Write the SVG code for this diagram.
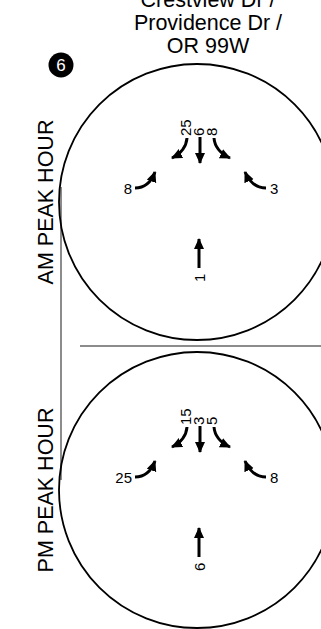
<svg xmlns="http://www.w3.org/2000/svg" width="321" height="629" viewBox="0 0 321 629">
<style>
.t{font-family:"Liberation Sans",Arial,sans-serif;fill:#000}
.ttl{font-size:21.5px;text-anchor:middle}
.ph{font-size:21.5px;text-anchor:middle}
.v{font-size:15px}
.ring{fill:none;stroke:#000;stroke-width:1.8}
.arr{fill:none;stroke:#000;stroke-width:3;marker-end:url(#ah)}
.rule{stroke:#666;stroke-width:1.5}
</style>
<defs>
<marker id="ah" markerUnits="userSpaceOnUse" markerWidth="11" markerHeight="11" viewBox="0 0 11 11" refX="10" refY="5.5" orient="auto">
<path d="M0,0.5 L11,5.5 L0,10.5 z" fill="#000"/>
</marker>
</defs>
<rect width="321" height="629" fill="#fff"/>
<g id="title">
<text class="t ttl" x="208" y="7">Crestview Dr /</text>
<text class="t ttl" x="208" y="30">Providence Dr /</text>
<text class="t ttl" x="208" y="53">OR 99W</text>
</g>
<g id="badge">
<circle cx="61" cy="65" r="12.5" fill="#000"/>
<text class="t" x="61" y="71" font-size="17" text-anchor="middle" style="fill:#fff">6</text>
</g>
<g id="frame">
<line class="rule" x1="61" y1="187" x2="61" y2="480"/>
<line class="rule" x1="80" y1="346" x2="321" y2="346"/>
</g>
<g id="am">
<circle class="ring" cx="197" cy="202" r="138"/>
<text class="t ph" transform="translate(53,202) rotate(-90)">AM PEAK HOUR</text>
</g>
<g id="pm">
<circle class="ring" cx="197" cy="490" r="138"/>
<text class="t ph" transform="translate(53,490) rotate(-90)">PM PEAK HOUR</text>
</g>
<g id="connectors">
<path class="arr" d="M200,137 L200,163"/>
<path class="arr" d="M187,138 Q186,151 172,158"/>
<path class="arr" d="M214,138 Q215,151 230,158"/>
<path class="arr" d="M135,188 Q149,188 155,172"/>
<path class="arr" d="M266,188 Q252,188 245,172"/>
<path class="arr" d="M199,268 L199,239"/>
<path class="arr" d="M200,426 L200,452"/>
<path class="arr" d="M187,427 Q186,440 172,447"/>
<path class="arr" d="M214,427 Q215,440 230,447"/>
<path class="arr" d="M135,477 Q149,477 155,461"/>
<path class="arr" d="M266,477 Q252,477 245,461"/>
<path class="arr" d="M199,557 L199,528"/>
</g>
<g id="am-volumes">
<text class="t v" transform="translate(191,136) rotate(-90)">25</text>
<text class="t v" transform="translate(204,136) rotate(-90)">6</text>
<text class="t v" transform="translate(217,136) rotate(-90)">8</text>
<text class="t v" x="132" y="194" text-anchor="end">8</text>
<text class="t v" x="270" y="194">3</text>
<text class="t v" transform="translate(205,282) rotate(-90)">1</text>
</g>
<g id="pm-volumes">
<text class="t v" transform="translate(191,425) rotate(-90)">15</text>
<text class="t v" transform="translate(204,425) rotate(-90)">3</text>
<text class="t v" transform="translate(217,425) rotate(-90)">5</text>
<text class="t v" x="132" y="483" text-anchor="end">25</text>
<text class="t v" x="270" y="483">8</text>
<text class="t v" transform="translate(205,571) rotate(-90)">6</text>
</g>
</svg>
